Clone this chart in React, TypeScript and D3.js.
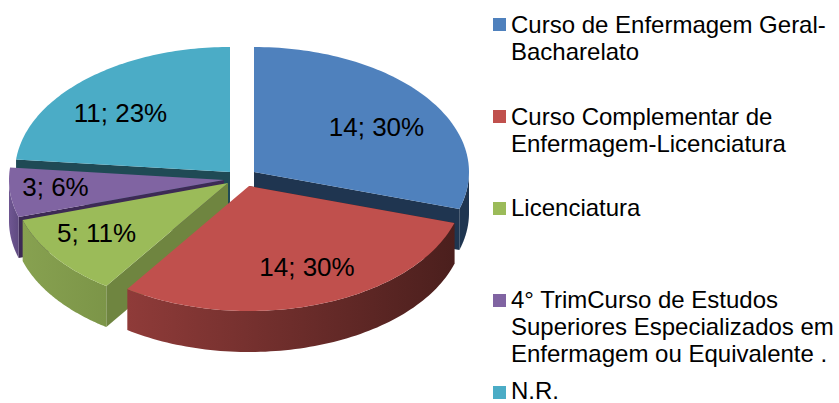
import React from "react";
import * as d3 from "d3";

const categories = [
  "Curso de Enfermagem Geral-Bacharelato",
  "Curso Complementar de Enfermagem-Licenciatura",
  "Licenciatura",
  "4° TrimCurso de Estudos Superiores Especializados em Enfermagem ou Equivalente .",
  "N.R.",
];
const values = [14, 14, 5, 3, 11];
const percents = [30, 30, 11, 6, 23];
const legendLines = [
  ["Curso de Enfermagem Geral-", "Bacharelato"],
  ["Curso Complementar de", "Enfermagem-Licenciatura"],
  ["Licenciatura"],
  ["4° TrimCurso de Estudos", "Superiores Especializados em", "Enfermagem ou Equivalente ."],
  ["N.R."],
];
const colors = ["#4f81bd", "#c0504d", "#9bbb59", "#8064a2", "#4bacc6"];
const wallColors = ["#1f3550", "#4d1f1d", "#6f8540", "#3d2a55", "#1f4a55"];
const rimStops = [
  ["#1f3550", "#1f3550"],
  ["#8f3b39", "#4b1f1d"],
  ["#87a150", "#7c9548"],
  ["#6d5590", "#5f4a80"],
  ["#1f4a55", "#1f4a55"],
];
const apexX = [254, 249, 228, 224, 230];
const apexY = [172, 186, 183, 180, 172];
const labelX = [376.5, 307, 96.5, 55.5, 120.5];
const labelY = [136, 276, 242, 196, 122];
const legendBaselines = [33, 124.5, 216, 308, 399];
const legendSquares = [18, 110, 202, 294, 386];
const drawOrder = [4, 0, 3, 2, 1];

const RX = 215;
const RY = 125;
const DEPTH = 41;
const FONT = "'Liberation Sans', Arial, sans-serif";

const pieGen = d3.pie<number>().sort(null).value((d) => d);
const arcs = pieGen(values);
const sx = d3.scaleLinear().domain([-1, 1]).range([-RX, RX]);
const sy = d3.scaleLinear().domain([-1, 1]).range([-RY, RY]);

function pt(i: number, a: number): [number, number] {
  return [apexX[i] + sx(Math.sin(a)), apexY[i] + sy(-Math.cos(a))];
}

const line = d3.line();

function topPath(i: number) {
  const s = arcs[i].startAngle;
  const e = arcs[i].endAngle;
  const pts: [number, number][] = [[apexX[i], apexY[i]]];
  d3.range(0, 81).forEach((k) => pts.push(pt(i, s + ((e - s) * k) / 80)));
  return line(pts) + "Z";
}

// The outer side, only where the rim faces the viewer (90°..270°).
function rimPath(i: number) {
  const s = Math.max(arcs[i].startAngle, Math.PI / 2);
  const e = Math.min(arcs[i].endAngle, (3 * Math.PI) / 2);
  if (e <= s) return "";
  const upper = d3.range(0, 81).map((k) => pt(i, s + ((e - s) * k) / 80));
  const lower = upper.map(([x, y]) => [x, y + DEPTH] as [number, number]).reverse();
  return line([...upper, ...lower]) + "Z";
}

// The cut face along a straight edge, dropped by the depth.
function wallPath(i: number, a: number) {
  const [x, y] = pt(i, a);
  return line([
    [apexX[i], apexY[i]],
    [x, y],
    [x, y + DEPTH],
    [apexX[i], apexY[i] + DEPTH],
  ]) + "Z";
}

// Which straight edge shows its cut face.
const wallAngle = [arcs[0].endAngle, arcs[1].startAngle, arcs[2].startAngle, arcs[3].startAngle, arcs[4].startAngle];

export default function App() {
  return (
    <svg
      width={839}
      height={403}
      style={{ position: "absolute", left: 0, top: 0, background: "#fff" }}
      fontFamily={FONT}
      aria-label={categories.join(", ")}
    >
      <defs>
        {rimStops.map((st, i) => {
          const xs = [pt(i, arcs[i].startAngle)[0], pt(i, arcs[i].endAngle)[0]];
          return (
            <linearGradient
              key={i}
              id={`rim${i}`}
              gradientUnits="userSpaceOnUse"
              x1={Math.min(...xs)}
              x2={Math.max(...xs)}
              y1={0}
              y2={0}
            >
              <stop offset="0" stopColor={st[0]} />
              <stop offset="1" stopColor={st[1]} />
            </linearGradient>
          );
        })}
      </defs>
      {drawOrder.map((i) => (
        <g key={i}>
          <path d={wallPath(i, wallAngle[i])} fill={wallColors[i]} />
          <path d={rimPath(i)} fill={`url(#rim${i})`} />
          <path d={topPath(i)} fill={colors[i]} />
        </g>
      ))}
      {values.map((v, i) => (
        <text key={i} x={labelX[i]} y={labelY[i]} textAnchor="middle" fontSize={26} fill="#000">
          {`${v}; ${percents[i]}%`}
        </text>
      ))}
      {legendLines.map((lines, i) => (
        <g key={i}>
          <rect x={493} y={legendSquares[i]} width={13} height={13} fill={colors[i]} />
          {lines.map((t, j) => (
            <text key={j} x={511} y={legendBaselines[i] + j * 27.2} fontSize={24} fill="#000">
              {t}
            </text>
          ))}
        </g>
      ))}
    </svg>
  );
}
